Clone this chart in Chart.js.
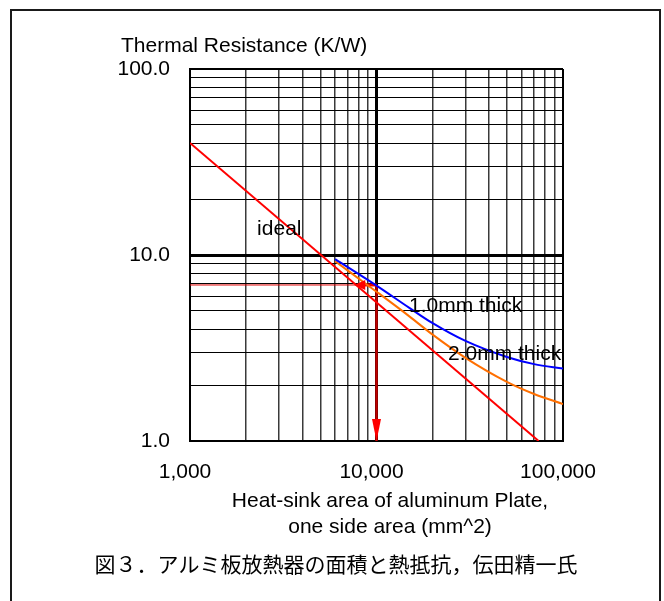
<!DOCTYPE html>
<html>
<head>
<meta charset="utf-8">
<script src="https://cdn.jsdelivr.net/npm/chart.js@4/dist/chart.umd.min.js"></script>
<style>
  html, body { margin: 0; padding: 0; background: #fff; }
</style>
</head>
<body>
<canvas id="grafico" width="664" height="601"></canvas>
<script>
// eixos
const xDecades = [1000, 10000, 100000];
const xTickLabels = ["1,000", "10,000", "100,000"];
const yDecades = [1, 10, 100];
const yTickLabels = ["1.0", "10.0", "100.0"];

// curvas (área mm^2, resistência K/W)
const idealArea = [1000, 74000];
const idealR = [40, 1];
const thick1Area = [6000, 10000, 15000, 20000, 30000, 50000, 70000, 100000];
const thick1R = [9.5, 6.85, 5.2, 4.3, 3.45, 2.83, 2.59, 2.45];
const thick2Area = [6000, 10000, 15000, 20000, 30000, 50000, 70000, 100000];
const thick2R = [9.25, 6.35, 4.68, 3.73, 2.8, 2.08, 1.79, 1.58];

// exemplo de leitura: 10,000 mm^2 -> ~6.9 K/W
const readArea = 10000;
const readR = 6.9;
const arrowTipArea = 7600;

const font = "Liberation Sans, Arial, sans-serif";

// linhas de grade 1..9 em cada década
function gridValues(decades) {
  const vals = [];
  for (let d = 0; d < decades.length - 1; d++) {
    for (let k = 1; k < 10; k++) vals.push(decades[d] * k);
  }
  vals.push(decades[decades.length - 1]);
  return vals;
}

function pts(xs, ys) {
  return xs.map((x, i) => ({ x: x, y: ys[i] }));
}

const textsPlugin = {
  id: "textos",
  afterDatasetsDraw(chart) {
    const ctx = chart.ctx;
    const sx = chart.scales.x, sy = chart.scales.y;
    ctx.save();
    ctx.fillStyle = "#ff0000";

    // ponta da seta vertical
    let px = sx.getPixelForValue(readArea), py = sy.getPixelForValue(1);
    ctx.beginPath();
    ctx.moveTo(px, py);
    ctx.lineTo(px - 4.5, py - 22);
    ctx.lineTo(px + 4.5, py - 22);
    ctx.closePath();
    ctx.fill();

    // ponta da seta horizontal
    px = sx.getPixelForValue(arrowTipArea);
    py = sy.getPixelForValue(readR);
    ctx.beginPath();
    ctx.moveTo(px, py);
    ctx.lineTo(px + 11, py - 5);
    ctx.lineTo(px + 11, py + 5);
    ctx.closePath();
    ctx.fill();

    // rótulos das curvas
    ctx.fillStyle = "#000";
    ctx.font = "21px " + font;
    ctx.textAlign = "left";
    ctx.textBaseline = "alphabetic";
    ctx.fillText("ideal", sx.getPixelForValue(2290), sy.getPixelForValue(12.8));
    ctx.fillText("1.0mm thick", sx.getPixelForValue(14930), sy.getPixelForValue(4.94));
    ctx.fillText("2.0mm thick", sx.getPixelForValue(24170), sy.getPixelForValue(2.73));
    ctx.restore();
  },
  afterDraw(chart) {
    const ctx = chart.ctx;
    const area = chart.chartArea;
    ctx.save();
    ctx.fillStyle = "#000";
    ctx.font = "21px " + font;
    ctx.textAlign = "left";
    ctx.textBaseline = "alphabetic";
    ctx.fillText("Thermal Resistance (K/W)", 121, area.top - 17);

    ctx.textAlign = "center";
    ctx.fillText("Heat-sink area of aluminum Plate,", 390, 507);
    ctx.fillText("one side area (mm^2)", 390, 533);

    ctx.font = "21px 'Noto Sans CJK JP', sans-serif";
    ctx.textBaseline = "middle";
    ctx.fillText("図３．アルミ板放熱器の面積と熱抵抗，伝田精一氏", 336, 564);

    // moldura externa
    ctx.strokeStyle = "#1a1a1a";
    ctx.lineWidth = 2;
    ctx.strokeRect(11, 10, 649, 700);
    ctx.restore();
  }
};

function decadeWidth(decades) {
  return c => {
    const v = c.tick ? c.tick.value : null;
    if (v === decades[0] || v === decades[decades.length - 1]) return 2;
    return decades.includes(v) ? 3 : null;
  };
}

const xGrid = gridValues(xDecades);
const yGrid = gridValues(yDecades);

new Chart(document.getElementById("grafico"), {
  type: "scatter",
  data: {
    datasets: [
      { data: pts(idealArea, idealR), borderColor: "#ff0000", borderWidth: 2 },
      { data: pts(thick1Area, thick1R), borderColor: "#0000ff", borderWidth: 2, cubicInterpolationMode: "monotone" },
      { data: pts(thick2Area, thick2R), borderColor: "#ff6f00", borderWidth: 2, cubicInterpolationMode: "monotone" },
      { data: pts([xDecades[0], readArea], [readR, readR]), borderColor: "#e00000", borderWidth: 1 },
      { data: pts([readArea, arrowTipArea + 500], [readR, readR]), borderColor: "#ff0000", borderWidth: 3 },
      { data: pts([readArea, readArea], [readR, 1]), borderColor: "#c00000", borderWidth: 2.5 }
    ].map(d => Object.assign({ showLine: true, pointRadius: 0, fill: false }, d))
  },
  options: {
    responsive: false,
    animation: false,
    events: [],
    layout: { padding: { left: 0, right: 101, top: 69, bottom: 0 } },
    plugins: { legend: { display: false }, tooltip: { enabled: false } },
    scales: {
      x: {
        type: "logarithmic",
        min: 1000,
        max: 100000,
        afterBuildTicks: s => { s.ticks = xGrid.map(v => ({ value: v })); },
        afterFit: s => { s.height = 160; },
        grid: {
          drawTicks: false,
          color: c => (c.tick && xDecades.includes(c.tick.value)) ? "#000" : "#3a3a3a",
          lineWidth: c => decadeWidth(xDecades)(c) || 1.5
        },
        border: { display: true, color: "#000", width: 2 },
        ticks: {
          autoSkip: false,
          maxRotation: 0,
          padding: 19,
          labelOffset: -5,
          color: "#000",
          font: { family: font, size: 21 },
          callback: v => {
            const i = xDecades.indexOf(v);
            return i >= 0 ? xTickLabels[i] : "";
          }
        }
      },
      y: {
        type: "logarithmic",
        min: 1,
        max: 100,
        afterBuildTicks: s => { s.ticks = yGrid.map(v => ({ value: v })); },
        afterFit: s => { s.width = 190; },
        grid: {
          drawTicks: false,
          color: "#000",
          lineWidth: c => decadeWidth(yDecades)(c) || 1
        },
        border: { display: true, color: "#000", width: 2 },
        ticks: {
          autoSkip: false,
          padding: 20,
          color: "#000",
          font: { family: font, size: 21 },
          callback: v => {
            const i = yDecades.indexOf(v);
            return i >= 0 ? yTickLabels[i] : "";
          }
        }
      }
    }
  },
  plugins: [textsPlugin]
});
</script>
</body>
</html>
